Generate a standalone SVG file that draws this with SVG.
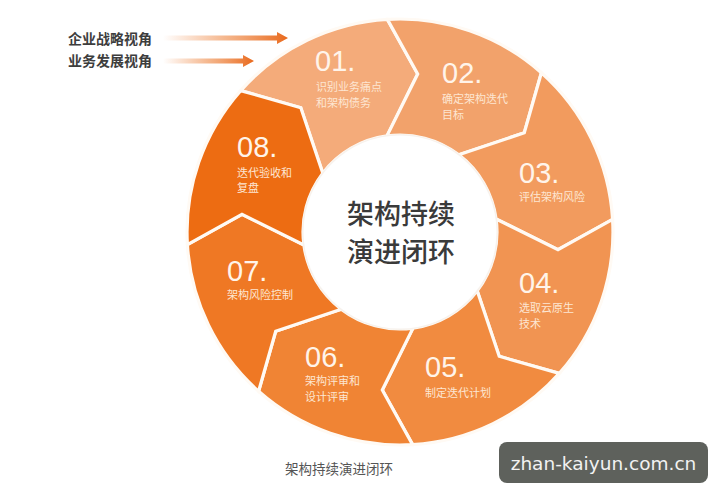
<svg xmlns="http://www.w3.org/2000/svg" width="724" height="500" viewBox="0 0 724 500">
<style>
.seg{stroke:#fffaf4;stroke-width:3.2;stroke-linejoin:miter}
.num{font-family:"Liberation Sans",Arial,sans-serif;font-size:29px;fill:#fff4ea}
.sub{font-family:"Noto Sans CJK SC","Liberation Sans",sans-serif;font-size:11px;fill:#fde6d2}
.lbl{font-family:"Noto Sans CJK SC","Liberation Sans",sans-serif;font-size:14px;font-weight:bold;fill:#3d3d3d}
.ctr{font-family:"Noto Sans CJK SC","Liberation Sans",sans-serif;font-size:27px;font-weight:500;fill:#3a3a3a;text-anchor:middle}
</style>
<defs>
<linearGradient id="ag" x1="0" y1="0" x2="1" y2="0">
<stop offset="0" stop-color="#f3a16c" stop-opacity="0"/>
<stop offset="0.5" stop-color="#f2a470" stop-opacity="0.8"/>
<stop offset="1" stop-color="#e9691c"/>
</linearGradient>
</defs>
<rect width="724" height="500" fill="#ffffff"/>
<g id="arrows">
<path d="M163,35.5 H277 V32 L288,38 L277,44 V40.5 H163 Z" fill="url(#ag)"/>
<path d="M163,58.5 H243 V55 L254,61 L243,67 V63.5 H163 Z" fill="url(#ag)"/>
</g>
<g id="labels">
<text class="lbl" x="68" y="44">企业战略视角</text>
<text class="lbl" x="68" y="66">业务发展视角</text>
</g>
<g id="node01">
<path class="seg" fill="#f4ab7a" d="M240.7,90.6 A213,213 0 0 1 387.4,19.4 L417.7,74 L387,135.9 A97,97 0 0 0 322.8,173.2 L300.8,107.7 Z"/>
<text class="num" x="315" y="71">01.</text>
<text class="sub" x="316" y="91">识别业务痛点</text>
<text class="sub" x="316" y="107">和架构债务</text>
</g>
<g id="node02">
<path class="seg" fill="#f2a26b" d="M387.4,19.4 A213,213 0 0 1 541.4,72.7 L524.3,132.8 L458.8,154.8 A97,97 0 0 0 387,135.9 L417.7,74 Z"/>
<text class="num" x="442" y="83">02.</text>
<text class="sub" x="442" y="103">确定架构迭代</text>
<text class="sub" x="442" y="119">目标</text>
</g>
<g id="node03">
<path class="seg" fill="#f29b5e" d="M541.4,72.7 A213,213 0 0 1 612.6,219.4 L558,249.7 L496.1,219 A97,97 0 0 0 458.8,154.8 L524.3,132.8 Z"/>
<text class="num" x="519" y="183">03.</text>
<text class="sub" x="519" y="201">评估架构风险</text>
</g>
<g id="node04">
<path class="seg" fill="#f19452" d="M612.6,219.4 A213,213 0 0 1 559.3,373.4 L499.2,356.3 L477.2,290.8 A97,97 0 0 0 496.1,219 L558,249.7 Z"/>
<text class="num" x="519" y="293">04.</text>
<text class="sub" x="519" y="312">选取云原生</text>
<text class="sub" x="519" y="328">技术</text>
</g>
<g id="node05">
<path class="seg" fill="#f18b40" d="M559.3,373.4 A213,213 0 0 1 412.6,444.6 L382.3,390 L413,328.1 A97,97 0 0 0 477.2,290.8 L499.2,356.3 Z"/>
<text class="num" x="425" y="377">05.</text>
<text class="sub" x="425" y="397">制定迭代计划</text>
</g>
<g id="node06">
<path class="seg" fill="#f08434" d="M412.6,444.6 A213,213 0 0 1 258.6,391.3 L275.7,331.2 L341.2,309.2 A97,97 0 0 0 413,328.1 L382.3,390 Z"/>
<text class="num" x="305" y="367">06.</text>
<text class="sub" x="305" y="385">架构评审和</text>
<text class="sub" x="305" y="401">设计评审</text>
</g>
<g id="node07">
<path class="seg" fill="#ef7824" d="M258.6,391.3 A213,213 0 0 1 187.4,244.6 L242,214.3 L303.9,245 A97,97 0 0 0 341.2,309.2 L275.7,331.2 Z"/>
<text class="num" x="227" y="281">07.</text>
<text class="sub" x="227" y="299">架构风险控制</text>
</g>
<g id="node08">
<path class="seg" fill="#ed6c12" d="M187.4,244.6 A213,213 0 0 1 240.7,90.6 L300.8,107.7 L322.8,173.2 A97,97 0 0 0 303.9,245 L242,214.3 Z"/>
<text class="num" x="237" y="157">08.</text>
<text class="sub" x="237" y="177">迭代验收和</text>
<text class="sub" x="237" y="192">复盘</text>
</g>
<g id="center">
<circle cx="400" cy="232" r="98" fill="#f1ece8" opacity="0.6"/>
<circle cx="400" cy="232" r="96.5" fill="#ffffff"/>
<text class="ctr" x="401" y="224">架构持续</text>
<text class="ctr" x="401" y="262">演进闭环</text>
</g>
<g id="caption">
<text x="285" y="474" font-family="Noto Sans CJK SC, Liberation Sans, sans-serif" font-size="13.5" fill="#555555">架构持续演进闭环</text>
</g>
<g id="watermark">
<rect x="499" y="442" width="209" height="41" rx="8" fill="#5e615c"/>
<text x="603.5" y="470" text-anchor="middle" font-family="DejaVu Sans, sans-serif" font-size="18.5" fill="#f2f2f2">zhan-kaiyun.com.cn</text>
</g>
</svg>
